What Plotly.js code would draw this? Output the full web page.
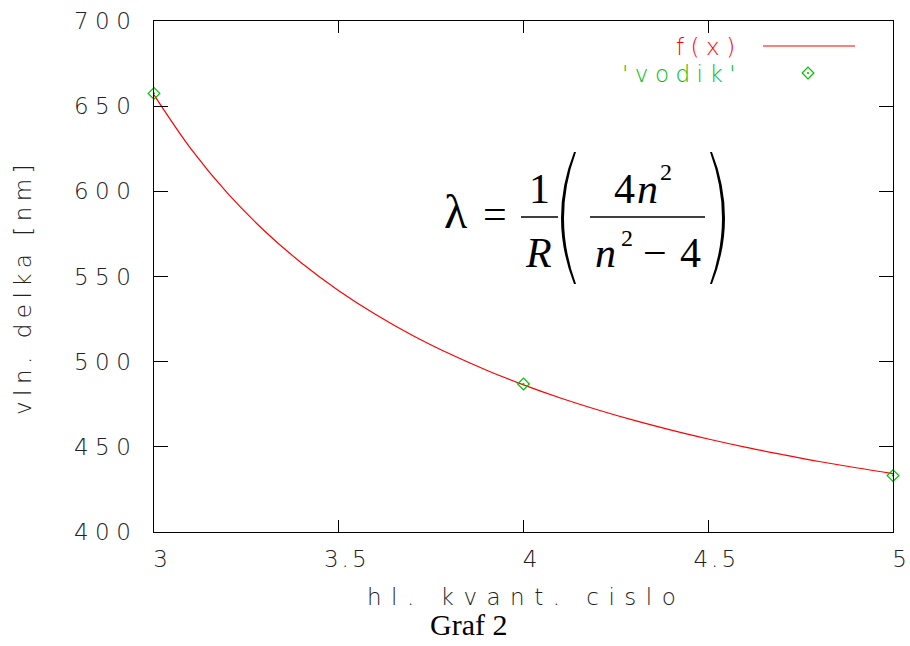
<!DOCTYPE html>
<html>
<head>
<meta charset="utf-8">
<script src="https://cdn.plot.ly/plotly-3.0.1.min.js"></script>
<style>
  html, body { margin: 0; padding: 0; background: #fff; }
  #chart { width: 910px; height: 646px; }
  /* wide, typewriter-like spacing for the plot lettering */
  text[style*="DejaVu Sans"] { letter-spacing: 6.5px; }
  text[style*="Arial"] { letter-spacing: 3px; }
  text[style*="Verdana"] { letter-spacing: 9.5px; }
  text[style*="Tahoma"] { letter-spacing: 5.5px; }
</style>
</head>
<body>
<div id="chart"></div>
<script>
// Hydrogen (Balmer series): principal quantum number n vs. wavelength in nm
const fitN  = [3.0, 3.1, 3.2, 3.3, 3.4, 3.5, 3.6, 3.7, 3.8, 3.9, 4.0,
               4.1, 4.2, 4.3, 4.4, 4.5, 4.6, 4.7, 4.8, 4.9, 5.0];
const fitNm = [656.6, 624.9, 598.6, 576.6, 557.8, 541.7, 527.7, 515.4, 504.6, 495.0, 486.4,
               478.7, 471.8, 465.5, 459.8, 454.6, 449.8, 445.5, 441.4, 437.7, 434.3];

// measured lines
const vodikN  = [3, 4, 5];
const vodikNm = [657.5, 486.9, 433.1];

const xTickVals = [3, 3.5, 4, 4.5, 5];
const xTickText = ['3', '3.5', '4', '4.5', '5'];
const yTickVals = [400, 450, 500, 550, 600, 650, 700];
const yTickText = ['400', '450', '500', '550', '600', '650', '700'];

const legendLabels = ['f(x)', "'vodik'"];

// plot frame in page pixels, used to place the free-standing labels
const PL = 154, PT = 21, PW = 739, PH = 511;
const px = x => (x - PL) / PW;
const py = y => (PT + PH - y) / PH;

const RED = '#ff0000';
const GREEN = '#00c000';
const tickFont   = { family: 'DejaVu Sans', size: 23, color: '#222', weight: 200 };
const xTickFont  = { family: 'DejaVu Sans, Arial', size: 23, color: '#222', weight: 200 };
const xTitleFont = { family: 'DejaVu Sans, Verdana', size: 23, color: '#222', weight: 200 };
const yTitleFont = { family: 'DejaVu Sans, Tahoma', size: 23, color: '#222', weight: 200 };
const eqFont     = { family: 'Liberation Serif', size: 42, color: '#000' };
const lamFont    = { family: 'Liberation Serif', size: 48, color: '#000' };
const supFont    = { family: 'Liberation Serif', size: 24, color: '#000' };

const traces = [
  {
    x: fitN, y: fitNm, type: 'scatter', mode: 'lines',
    line: { color: RED, width: 1.2, shape: 'spline' },
    hoverinfo: 'skip'
  },
  {
    x: vodikN, y: vodikNm, type: 'scatter', mode: 'markers',
    marker: { symbol: 'diamond-open-dot', size: 9, color: GREEN, line: { color: GREEN, width: 1.2 } },
    cliponaxis: false
  },
  // key sample for the measured points
  {
    x: [px(808)], y: [py(73)], xaxis: 'x2', yaxis: 'y2', type: 'scatter', mode: 'markers',
    marker: { symbol: 'diamond-open-dot', size: 9, color: GREEN, line: { color: GREEN, width: 1.2 } },
    cliponaxis: false, hoverinfo: 'skip'
  }
];

function txt(text, x, y, font, opts) {
  return Object.assign({
    text: text, x: px(x), y: py(y), xref: 'paper', yref: 'paper',
    xanchor: 'center', yanchor: 'middle', showarrow: false, font: font
  }, opts || {});
}

const annotations = [
  // axis titles
  txt('vln. delka [nm]', 23, 287, yTitleFont, { textangle: -90 }),
  txt('hl. kvant. cislo', 526, 597, xTitleFont),
  // caption
  txt('Graf 2', 468, 624, { family: 'Liberation Serif', size: 30, color: '#000' }),
  // key labels
  txt(legendLabels[0], 744, 47, Object.assign({}, tickFont, { color: RED }), { xanchor: 'right' }),
  txt(legendLabels[1], 744, 74, Object.assign({}, tickFont, { color: GREEN }), { xanchor: 'right' }),
  // lambda = 1/R (4n^2 / (n^2 - 4))
  txt('λ', 455.5, 211.8, lamFont),
  txt('=', 495, 214, eqFont),
  txt('1', 539.5, 189, eqFont),
  txt('<i>R</i>', 538.5, 253, eqFont),
  txt('4', 624, 189, eqFont),
  txt('<i>n</i>', 647, 189, eqFont),
  txt('2', 666, 172, supFont),
  txt('<i>n</i>', 605, 253, eqFont),
  txt('2', 626.5, 238, supFont),
  txt('\u2212', 655, 253, eqFont),
  txt('4', 690, 253, eqFont)
];

function pathFrom(points) {
  // points: list of [cmd, x, y, ...] in page pixels
  return points.map(p => p[0] + p.slice(1).map((v, i) => (i % 2 === 0 ? px(v) : py(v)).toFixed(5)).join(',')).join(' ');
}

const shapes = [
  // fraction bars
  { type: 'line', xref: 'paper', yref: 'paper', x0: px(521), x1: px(558), y0: py(217), y1: py(217), line: { color: '#000', width: 1.6 } },
  { type: 'line', xref: 'paper', yref: 'paper', x0: px(590), x1: px(705), y0: py(217), y1: py(217), line: { color: '#000', width: 1.6 } },
  // tall parentheses
  { type: 'path', xref: 'paper', yref: 'paper', fillcolor: '#000', line: { width: 0 },
    path: pathFrom([['M', 574, 152], ['Q', 548, 218, 574, 284], ['L', 576, 284], ['Q', 552, 218, 576, 152], ['Z']]) },
  { type: 'path', xref: 'paper', yref: 'paper', fillcolor: '#000', line: { width: 0 },
    path: pathFrom([['M', 712, 152], ['Q', 738, 218, 712, 284], ['L', 710, 284], ['Q', 734, 218, 710, 152], ['Z']]) },
  // key sample for the fitted curve
  { type: 'line', xref: 'paper', yref: 'paper', x0: px(763), x1: px(855), y0: py(46), y1: py(46), line: { color: RED, width: 1.2 } }
];

const layout = {
  width: 910, height: 646,
  margin: { l: PL, r: 910 - PL - PW, t: PT, b: 646 - PT - PH, pad: 0 },
  paper_bgcolor: '#fff', plot_bgcolor: '#fff',
  showlegend: false,
  xaxis: {
    range: [3, 5], tickmode: 'array', tickvals: xTickVals, ticktext: xTickText,
    ticks: 'inside', ticklen: 12, tickwidth: 1, tickcolor: '#000',
    showline: true, linecolor: '#000', linewidth: 1, mirror: 'ticks',
    showgrid: false, zeroline: false, tickfont: xTickFont,
    ticklabelstandoff: 6, ticklabelshift: 8, ticklabeloverflow: 'allow'
  },
  yaxis: {
    range: [400, 700], tickmode: 'array', tickvals: yTickVals, ticktext: yTickText,
    ticks: 'inside', ticklen: 14, tickwidth: 1, tickcolor: '#000',
    showline: true, linecolor: '#000', linewidth: 1, mirror: 'ticks',
    showgrid: false, zeroline: false, tickfont: tickFont,
    ticklabelstandoff: 11, ticklabeloverflow: 'allow'
  },
  xaxis2: { overlaying: 'x', range: [0, 1], visible: false },
  yaxis2: { overlaying: 'y', range: [0, 1], visible: false },
  annotations: annotations,
  shapes: shapes
};

Plotly.newPlot('chart', traces, layout, { staticPlot: true, displayModeBar: false });
</script>
</body>
</html>
